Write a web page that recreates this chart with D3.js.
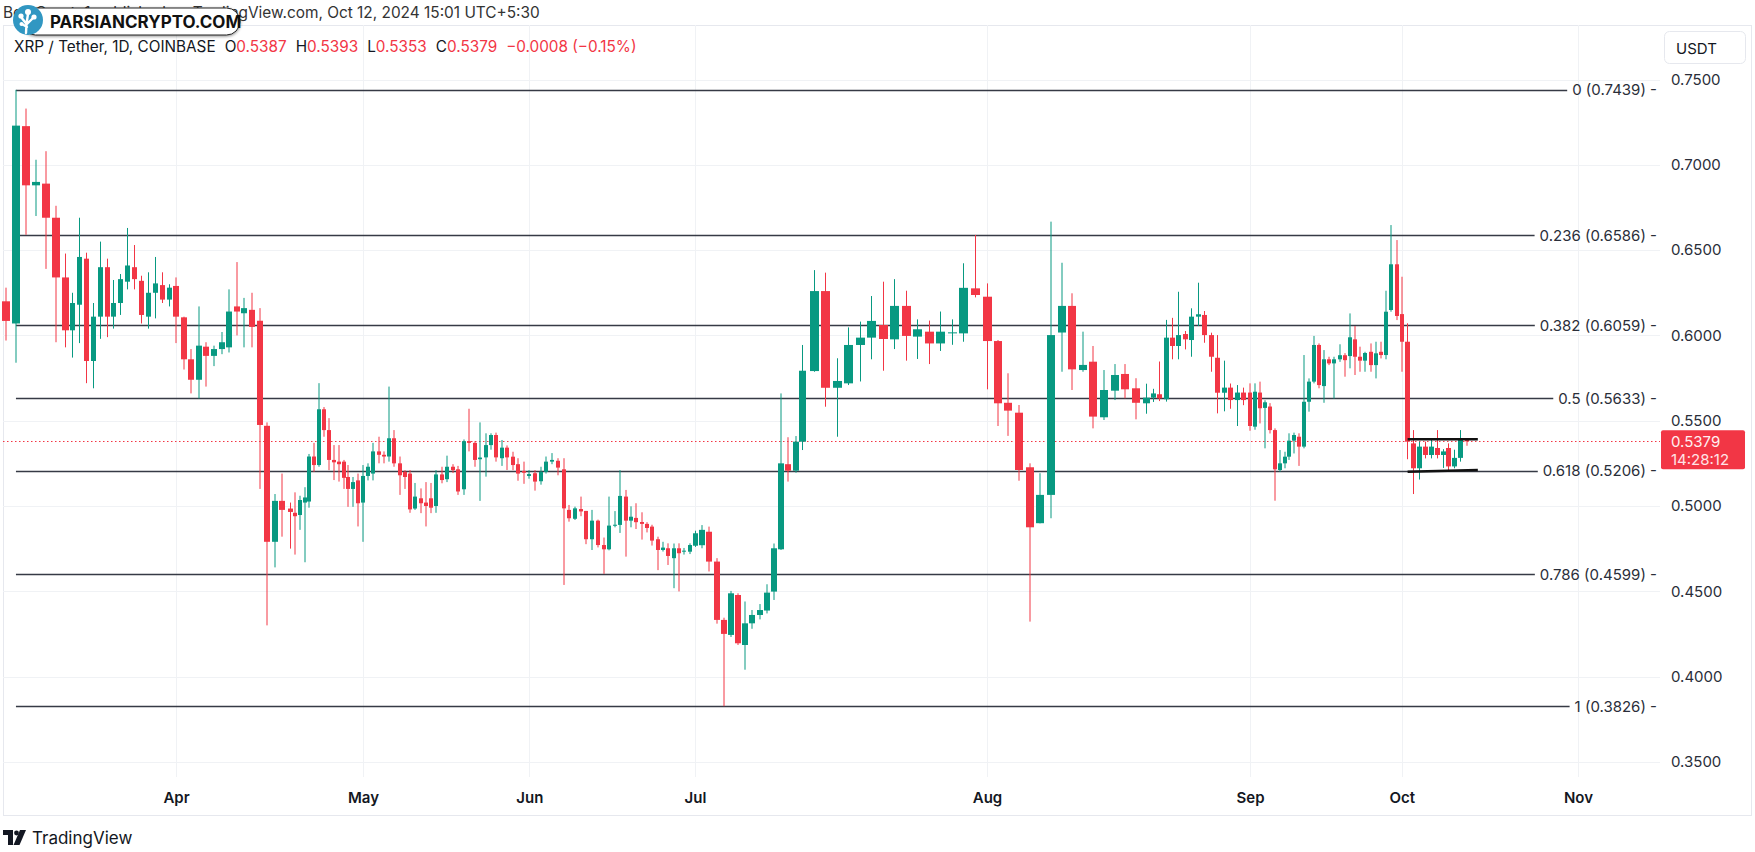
<!DOCTYPE html>
<meta charset="utf-8">
<title>XRP / Tether, 1D, COINBASE</title>
<script src="https://d3js.org/d3.v7.min.js"></script>
<style>
  body { margin: 0; background: #fff; }
  svg text { font-family: Inter, "Noto Sans", sans-serif; }
</style>
<svg id="chart" width="1755" height="852"></svg>
<script>

// ---- data ----
var firstDay = "2024-03-10";   // one candle per day from here

var opens = [
  .620,.607,.7227,.688,.689,.669,.634,.603,.618,.645,.585,.611,.640,.611,.619,.6315,.640,.632,.611,.625,.6295,.621,
  .629,.6106,.586,.574,.5934,.588,.592,.593,.617,.613,.615,.6086,.547,.479,.503,.4985,.496,.4947,.502,.5026,.529,.524,.5567,.5445,.527,.526,.526,.517,.510,.515,
  .502,.5176,.519,.532,.530,.529,.5397,.525,.520,.519,.4985,.5045,.502,.5045,.500,.5185,.5157,.523,.5215,.5098,.538,.537,.5274,.5285,.5357,.5416,.528,.5342,.5289,.5245,.5205,
  .5176,.5192,.5145,.520,.526,.5265,.5215,.4977,.4925,.4982,.4971,.4805,.4914,.4771,.4746,.4885,.4889,.5055,.4914,.493,.4906,.4895,.4879,.4805,.4742,.4752,.4694,.4752,.4734,.4732,
  .4767,.4770,.4849,.4674,.4332,.4244,.4478,.4185,.4312,.4361,.4387,.4498,.4746,.5245,.5207,.5377,.5791,.626,.5693,.5719,.5944,.5987,.6061,.5977,.6173,.5993,.6022,.5953,.6012,.6012,.6276,
  .6227,.5967,.5605,.5547,.5227,.4899,.5065,.6017,.6173,.5797,.5846,.552,.5676,.5774,.569,.5602,.5635,.5655,.5626,.5987,.5938,.6008,.5973,.611,.612,.6002,.5869,.5664,.5694,.5621,.5665,
  .5665,.5465,.5665,.5575,.5583,.5445,.5211,.525,.5289,.5383,.5406,.5348,.5611,.5729,.5944,.5703,.586,.5836,.586,.5884,.5879,.5977,.5875,.5852,.5904,.5826,.5904,.5885,.6149,.6417,
  .6125,.5963,.5367,.5221,.5348,.5299,.534,.5299,.534,.5232,.5282,.5387
];
var highs = [
  .628,.744,.733,.703,.708,.676,.648,.625,.669,.6485,.619,.655,.645,.6325,.636,.663,.653,.635,.637,.646,.637,.630,
  .634,.611,.592,.617,.596,.594,.602,.627,.643,.622,.625,.616,.549,.507,.519,.502,.508,.506,.511,.5305,.537,.572,.558,.5515,.5357,.5357,.527,.524,.517,.519,
  .524,.525,.537,.5406,.532,.570,.5445,.529,.521,.521,.5135,.5103,.514,.5135,.521,.523,.5295,.5245,.5235,.539,.557,.538,.549,.5426,.5426,.543,.5387,.5355,.5318,.528,.526,
  .521,.521,.523,.529,.531,.528,.528,.5006,.4996,.5055,.4971,.4977,.492,.4815,.5055,.497,.521,.5094,.4998,.5016,.4963,.4905,.489,.482,.479,.4781,.478,.4781,.4754,.4781,
  .4855,.4888,.4879,.4694,.4345,.4502,.4488,.444,.439,.4425,.4541,.478,.566,.5403,.541,.5944,.6383,.6368,.5866,.6047,.6081,.6231,.6315,.633,.6262,.6094,.6087,.614,.6094,.6423,.6589,
  .6305,.5973,.5778,.5592,.525,.5192,.6667,.6426,.6247,.6022,.5938,.5797,.5832,.5832,.5749,.5717,.5687,.5847,.6091,.6103,.6256,.6026,.6159,.6309,.6143,.6016,.6002,.5852,.5718,.5709,.5694,
  .5719,.5719,.5729,.562,.5603,.5455,.5328,.5318,.5426,.543,.5426,.5885,.5748,.5997,.5953,.5914,.5875,.5875,.5948,.5896,.6129,.6055,.5934,.5904,.5953,.5963,.5963,.6262,.6647,.6559,
  .6344,.6071,.5445,.5377,.5377,.539,.5445,.5333,.5367,.533,.5445,.5393
];
var lows = [
  .597,.584,.659,.670,.639,.596,.593,.587,.5955,.572,.569,.598,.599,.604,.612,.627,.627,.607,.604,.610,.619,.617,
  .5955,.580,.566,.563,.570,.582,.589,.590,.600,.593,.593,.510,.430,.464,.482,.475,.4715,.486,.467,.499,.520,.523,.5406,.521,.5152,.5143,.510,.4995,.4995,.488,
  .479,.515,.515,.525,.525,.526,.523,.5065,.510,.496,.4977,.4958,.488,.4958,.496,.5133,.514,.5193,.5065,.5065,.532,.523,.503,.5172,.533,.526,.5235,.5211,.521,.5148,.513,
  .516,.509,.5125,.519,.5245,.518,.4537,.4908,.4918,.494,.4776,.4742,.4757,.4602,.474,.4875,.4842,.4703,.4875,.4865,.4803,.4845,.4768,.4624,.4733,.4654,.4518,.4499,.4715,.4718,
  .476,.4752,.4616,.431,.3826,.4232,.4185,.404,.428,.4335,.437,.4449,.4742,.5143,.5195,.5328,.5787,.5582,.5406,.5709,.573,.586,.5793,.592,.5852,.5862,.5832,.5909,.5945,.5963,.6223,
  .5684,.5469,.5411,.5148,.4322,.4898,.4928,.5787,.568,.5787,.5455,.5504,.5621,.5631,.5508,.5541,.561,.5615,.5612,.586,.586,.5918,.5875,.6055,.5957,.5787,.5543,.5555,.557,.5469,.5591,
  .5441,.5447,.5484,.5338,.5425,.5031,.5201,.5221,.527,.5308,.5235,.5338,.5553,.5719,.569,.5605,.5826,.5629,.5845,.5758,.5807,.5768,.5787,.5787,.5787,.5748,.5865,.586,.6139,.609,
  .5787,.5274,.507,.5155,.5279,.5279,.5279,.5223,.5211,.5221,.526,.5353
];
var closes = [
  .6085,.723,.688,.690,.669,.634,.603,.619,.646,.585,.611,.640,.611,.619,.633,.641,.633,.612,.625,.6305,.621,.628,
  .611,.586,.574,.594,.588,.592,.596,.614,.614,.616,.605,.5475,.479,.503,.4977,.4965,.494,.5035,.505,.529,.524,.5567,.5445,.527,.5256,.5245,.5165,.510,.514,.5016,
  .5176,.523,.532,.530,.529,.5397,.525,.518,.517,.498,.5055,.5016,.500,.499,.5185,.5152,.523,.521,.5085,.538,.537,.527,.5284,.5357,.5416,.5285,.5342,.5285,.524,.519,.5195,
  .5187,.5143,.520,.526,.527,.5225,.4986,.4928,.4986,.4968,.4805,.4914,.4771,.4746,.4885,.489,.5059,.4914,.4937,.4905,.4895,.4871,.4797,.4742,.4756,.4707,.4752,.4723,.4738,.4771,
  .484,.486,.4674,.4332,.425,.4488,.4195,.4312,.4361,.439,.4492,.4752,.525,.5207,.5377,.5793,.626,.5693,.5733,.5944,.5987,.6085,.5979,.6173,.5997,.6036,.5953,.6022,.6018,.6279,.6237,
  .5967,.5602,.5559,.5211,.4875,.5065,.6002,.6173,.5801,.5827,.5524,.568,.5768,.5684,.5605,.5635,.566,.5631,.5987,.5938,.6002,.5977,.611,.6124,.6002,.5875,.5664,.5694,.5621,.5665,.5621,
  .5469,.567,.5573,.5608,.5445,.5215,.525,.5289,.5383,.5416,.5348,.5611,.5729,.5944,.5709,.586,.5836,.586,.5884,.5855,.5989,.5875,.5852,.5897,.5826,.5895,.5885,.6139,.6417,.6114,
  .5963,.5377,.5221,.5348,.5299,.5348,.5299,.532,.5232,.5282,.5387,.5379
];

var fibRatios = ["0", "0.236", "0.382", "0.5", "0.618", "0.786", "1"];
var fibPrices = [0.7439, 0.6586, 0.6059, 0.5633, 0.5206, 0.4599, 0.3826];
var fibFrom = "2024-03-11";

var priceTicks = [0.35, 0.40, 0.45, 0.50, 0.55, 0.60, 0.65, 0.70, 0.75];
var monthTicks = ["2024-04-01", "2024-05-01", "2024-06-01", "2024-07-01", "2024-08-01", "2024-09-01", "2024-10-01", "2024-11-01"];
var monthNames = ["Apr", "May", "Jun", "Jul", "Aug", "Sep", "Oct", "Nov"];

// consolidation box drawn on the chart
var boxDates = ["2024-10-02", "2024-10-14"];
var boxTop = [0.5391, 0.5391];
var boxBottom = [0.5201, 0.5211];

var lastPrice = 0.5379;
var countdown = "14:28:12";

// ---- layout ----
var W = 1755, H = 852;
var pane = {left: 3, top: 25, right: 1751, bottom: 815};
var plotRight = 1660, plotBottom = 777;

// the time axis of the screenshot is not evenly spaced, so the scale is piecewise
var xAnchorDates = ["2024-03-10", "2024-03-16", "2024-04-01", "2024-04-16", "2024-05-01", "2024-05-16", "2024-06-01", "2024-06-16",
  "2024-07-01", "2024-07-16", "2024-08-01", "2024-08-16", "2024-09-01", "2024-09-16", "2024-10-01", "2024-10-12", "2024-11-01"];
var xAnchorPx = [6, 65.7, 176, 290, 363, 441.7, 529.3, 615, 695, 802.7, 987, 1146.7, 1250, 1324, 1401.7, 1466.7, 1578];

var UP = "#089981", DOWN = "#F23645";

var parse = d3.utcParse("%Y-%m-%d");

var x = d3.scaleUtc()
  .domain(xAnchorDates.map(parse))
  .range(xAnchorPx);

var y = d3.scaleLinear()
  .domain([0.3411, 0.782])
  .range([plotBottom, pane.top]);

var svg = d3.select("#chart");

// pane border
svg.append("rect")
  .attr("x", pane.left + 0.5).attr("y", pane.top + 0.5)
  .attr("width", pane.right - pane.left).attr("height", pane.bottom - pane.top)
  .attr("fill", "none").attr("stroke", "#e6e8ee");

// grid
svg.append("g").selectAll("line").data(priceTicks).enter().append("line")
  .attr("x1", pane.left).attr("x2", plotRight)
  .attr("y1", function(d) { return Math.round(y(d)) + 0.5; })
  .attr("y2", function(d) { return Math.round(y(d)) + 0.5; })
  .attr("stroke", "#f0f2f5");

svg.append("g").selectAll("line").data(monthTicks).enter().append("line")
  .attr("x1", function(d) { return Math.round(x(parse(d))) + 0.5; })
  .attr("x2", function(d) { return Math.round(x(parse(d))) + 0.5; })
  .attr("y1", pane.top).attr("y2", plotBottom)
  .attr("stroke", "#f0f2f5");

// price axis
var yAxis = d3.axisRight(y).tickValues(priceTicks).tickFormat(d3.format(".4f")).tickSize(0).tickPadding(0);
var gy = svg.append("g").attr("transform", "translate(1671,0)").call(yAxis);
gy.select(".domain").remove();
gy.selectAll("text").attr("font-size", 15).attr("fill", "#2a2e39")
  .attr("font-family", "Inter, 'Noto Sans', sans-serif");

// time axis
var xAxis = d3.axisBottom(x).tickValues(monthTicks.map(parse))
  .tickFormat(function(d, i) { return monthNames[i]; }).tickSize(0).tickPadding(0);
var gx = svg.append("g").attr("transform", "translate(0,792)").call(xAxis);
gx.select(".domain").remove();
gx.selectAll("text").attr("font-size", 15).attr("font-weight", 600).attr("fill", "#131722")
  .attr("font-family", "Inter, 'Noto Sans', sans-serif");

// last price dotted line
svg.append("line")
  .attr("x1", pane.left).attr("x2", plotRight)
  .attr("y1", Math.round(y(lastPrice)) + 0.5).attr("y2", Math.round(y(lastPrice)) + 0.5)
  .attr("stroke", DOWN).attr("stroke-width", 1).attr("stroke-dasharray", "1.5,2.5");

// fibonacci levels
var fibX0 = x(parse(fibFrom));
var fib = svg.append("g");
fibPrices.forEach(function(p, i) {
  var t = fib.append("text")
    .attr("x", 1657).attr("y", y(p))
    .attr("text-anchor", "end").attr("dominant-baseline", "central")
    .attr("font-size", 15).attr("fill", "#2a2e39")
    .text(fibRatios[i] + " (" + d3.format(".4f")(p) + ") -");
  var w = t.node().getComputedTextLength();
  fib.insert("line", "text")
    .attr("x1", fibX0).attr("x2", 1657 - w - 5)
    .attr("y1", Math.round(y(p)) + 0.5).attr("y2", Math.round(y(p)) + 0.5)
    .attr("stroke", "#363a45").attr("stroke-width", 1.6);
});

// candles
var start = parse(firstDay);
var candles = closes.map(function(c, i) {
  return {date: d3.utcDay.offset(start, i), o: opens[i], h: highs[i], l: lows[i], c: c};
});

function slot(d) {
  return (x(d3.utcDay.offset(d, 1)) - x(d3.utcDay.offset(d, -1))) / 2;
}

var g = svg.append("g");
candles.forEach(function(d) {
  var cx = x(d.date);
  var bw = Math.max(3, Math.round(slot(d.date) * 0.78));
  var bx = Math.round(cx - bw / 2);
  var col = d.c >= d.o ? UP : DOWN;
  var top = y(Math.max(d.o, d.c)), bot = y(Math.min(d.o, d.c));
  g.append("line")
    .attr("x1", bx + bw / 2).attr("x2", bx + bw / 2)
    .attr("y1", y(d.h)).attr("y2", y(d.l))
    .attr("stroke", col).attr("stroke-width", 1);
  g.append("rect")
    .attr("x", bx).attr("width", bw)
    .attr("y", top).attr("height", Math.max(1, bot - top))
    .attr("fill", col);
});

// consolidation box lines
[boxTop, boxBottom].forEach(function(lv) {
  svg.append("line")
    .attr("x1", x(parse(boxDates[0]))).attr("x2", x(parse(boxDates[1])))
    .attr("y1", y(lv[0])).attr("y2", y(lv[1]))
    .attr("stroke", "#111").attr("stroke-width", 2.6);
});

// price tag
svg.append("rect")
  .attr("x", 1661).attr("y", y(lastPrice) - 11).attr("width", 84).attr("height", 39)
  .attr("rx", 2).attr("fill", DOWN);
svg.append("text")
  .attr("x", 1671).attr("y", y(lastPrice)).attr("dominant-baseline", "central")
  .attr("font-size", 15).attr("fill", "#fff0f1").text(d3.format(".4f")(lastPrice));
svg.append("text")
  .attr("x", 1671).attr("y", y(lastPrice) + 18).attr("dominant-baseline", "central")
  .attr("font-size", 15).attr("fill", "#ffe3e6").text(countdown);

// currency box
svg.append("rect")
  .attr("x", 1664.5).attr("y", 31.5).attr("width", 81).attr("height", 32)
  .attr("rx", 5).attr("fill", "#fff").attr("stroke", "#e6e8ee");
svg.append("text")
  .attr("x", 1676).attr("y", 48).attr("dominant-baseline", "central")
  .attr("font-size", 15).attr("fill", "#131722").text("USDT");

// header texts
svg.append("text")
  .attr("x", 3).attr("y", 12).attr("dominant-baseline", "central")
  .attr("font-size", 15.4).attr("fill", "#333")
  .text("BeInCrypto1 published on TradingView.com, Oct 12, 2024 15:01 UTC+5:30");

var legend = svg.append("text")
  .attr("x", 14).attr("y", 46).attr("dominant-baseline", "central")
  .attr("font-size", 15.3).attr("fill", "#131722");
legend.append("tspan").text("XRP / Tether, 1D, COINBASE");
var last = candles[candles.length - 1];
[["O", last.o], ["H", last.h], ["L", last.l], ["C", last.c]].forEach(function(p) {
  legend.append("tspan").attr("dx", 9).text(p[0]);
  legend.append("tspan").attr("fill", DOWN).text(d3.format(".4f")(p[1]));
});
legend.append("tspan").attr("dx", 9).attr("fill", DOWN).text("\u22120.0008 (\u22120.15%)");

// watermark
var defs = svg.append("defs");
var f = defs.append("filter").attr("id", "sh").attr("x", "-10%").attr("y", "-30%").attr("width", "120%").attr("height", "160%");
f.append("feDropShadow").attr("dx", 0).attr("dy", 1).attr("stdDeviation", 1.5).attr("flood-color", "#000").attr("flood-opacity", 0.45);
var wm = svg.append("g");
wm.append("rect").attr("x", 22).attr("y", 8).attr("width", 218).attr("height", 27).attr("rx", 13.5)
  .attr("fill", "#fff").attr("stroke", "#222").attr("stroke-width", 1).attr("filter", "url(#sh)");
wm.append("text").attr("x", 50).attr("y", 22).attr("dominant-baseline", "central")
  .attr("font-size", 17).attr("font-weight", 700).attr("fill", "#111").text("PARSIANCRYPTO.COM");
wm.append("circle").attr("cx", 28).attr("cy", 20).attr("r", 15).attr("fill", "#3197c2");
wm.append("path").attr("d", "M26 33 L26.5 24 L21 17 M26.5 24 L28 14 M27 24 L33 18 M27 27 L22 24")
  .attr("stroke", "#fff").attr("stroke-width", 2.4).attr("fill", "none").attr("stroke-linecap", "round");
[[21, 16, 2.6], [28, 12, 3], [34, 17, 2.6], [21.5, 24, 2]].forEach(function(c) {
  wm.append("circle").attr("cx", c[0]).attr("cy", c[1]).attr("r", c[2]).attr("fill", "#fff");
});

// footer logo
var tv = svg.append("g").attr("fill", "#131722");
tv.append("path").attr("d", "M3 830 h10 v15 h-5 v-10 h-5 z");
tv.append("circle").attr("cx", 16.5).attr("cy", 833).attr("r", 2.4);
tv.append("path").attr("d", "M20 830 h6 l-6.5 15 h-6 z");
svg.append("text").attr("x", 32).attr("y", 838).attr("dominant-baseline", "central")
  .attr("font-size", 17).attr("fill", "#131722").text("TradingView");

</script>
